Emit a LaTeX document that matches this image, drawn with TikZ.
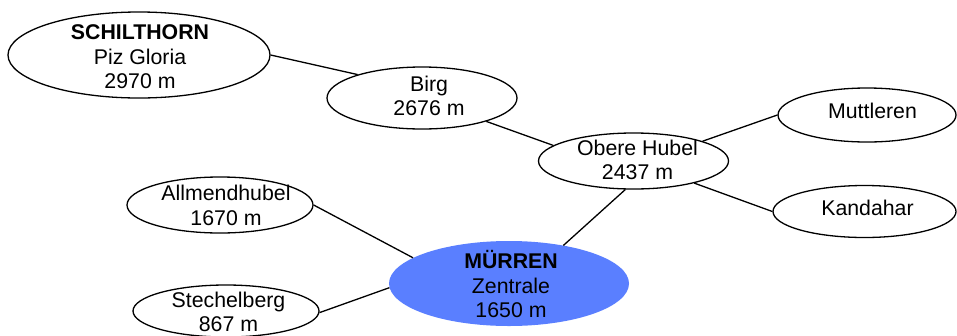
\documentclass[tikz,border=0pt]{standalone}
\usepackage{fontspec}
\setmainfont{Liberation Sans}
\usetikzlibrary{shapes.geometric}
\definecolor{hubfill}{HTML}{5A7FFF}
\begin{document}
\begin{tikzpicture}[x=1pt,y=-1pt,
  station/.style={ellipse, draw, line width=1.3pt, inner sep=0pt, fill=white},
  hub/.style={ellipse, fill=hubfill, inner sep=0pt},
  caption/.style={align=center, inner sep=0pt, font=\fontsize{21.3}{24.5}\selectfont},
  link/.style={line width=1.3pt}]
\useasboundingbox (0,0) rectangle (957,335);
\clip (0,0) rectangle (957,335);

% stations (ellipse outlines)
\node[station, minimum width=262, minimum height=86] (sch)   at (139,55)      {};
\node[station, minimum width=190, minimum height=62] (birg)  at (422,98)      {};
\node[station, minimum width=190, minimum height=56] (obere) at (633.5,161)   {};
\node[station, minimum width=178, minimum height=54] (mutt)  at (867,115)     {};
\node[station, minimum width=183, minimum height=52] (kand)  at (864.5,211.5) {};
\node[station, minimum width=186, minimum height=56] (allm)  at (220,205)     {};
\node[hub,     minimum width=240, minimum height=85] (murr)  at (509,283.5)   {};
\node[station, minimum width=186, minimum height=52] (stech) at (226,311)     {};

% cable car links
\draw[link] (sch.0)     -- (birg.160);
\draw[link] (birg.-20)  -- (obere.169);
\draw[link] (obere.16)  -- (mutt.180);
\draw[link] (obere.-20) -- (kand.180);
\draw[link] (obere.254) -- (murr.35);
\draw[link] (allm.0)    -- (murr.165);
\draw[link] (stech.-1)  -- (murr.182);

% station labels
\node[caption] (sch-t)   at (140,57)      {\textbf{SCHILTHORN}\\Piz Gloria\\2970 m};
\node[caption] (birg-t)  at (429,96)      {Birg\\2676 m};
\node[caption] (obere-t) at (637.5,160)   {Obere Hubel\\2437 m};
\node[caption] (mutt-t)  at (872.5,110.7) {Muttleren};
\node[caption] (kand-t)  at (867.5,208.3) {Kandahar};
\node[caption] (allm-t)  at (226,205.5)   {Allmendhubel\\1670 m};
\node[caption] (murr-t)  at (511,284.5)   {\textbf{MÜRREN}\\Zentrale\\1650 m};
\node[caption] (stech-t) at (228.5,312)   {Stechelberg\\867 m};
\end{tikzpicture}
\end{document}
